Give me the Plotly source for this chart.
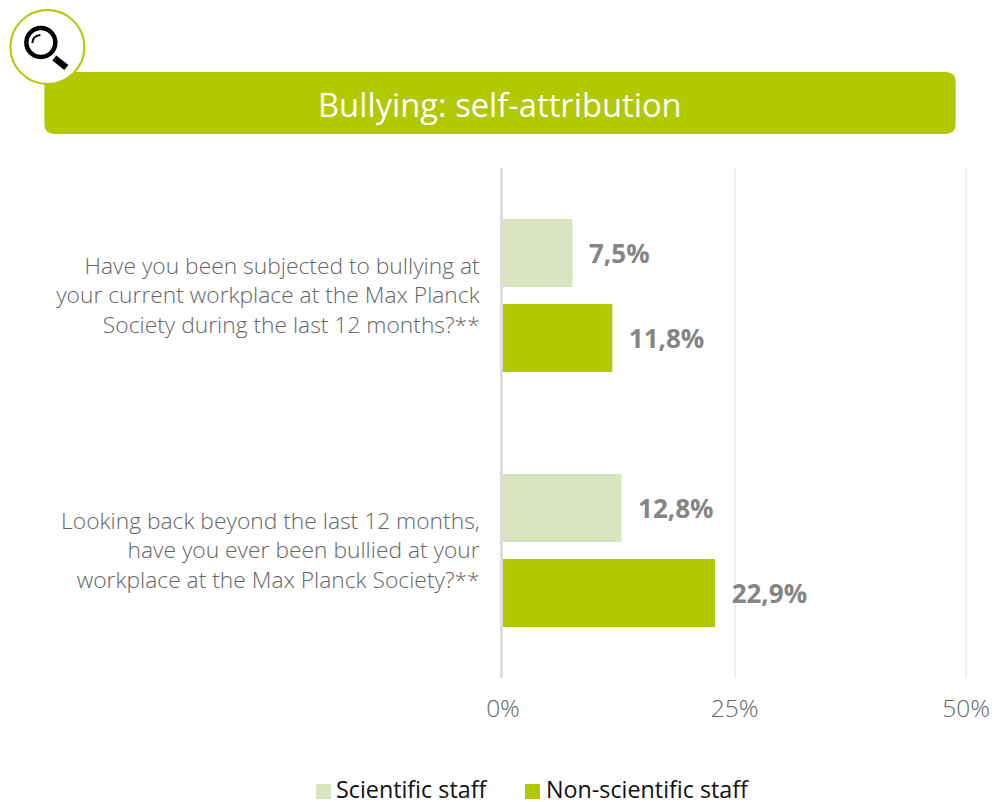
import plotly.graph_objects as go

categories = [
    "Have you been subjected to bullying at<br>your current workplace at the Max Planck<br>Society during the last 12 months?**",
    "Looking back beyond the last 12 months,<br>have you ever been bullied at your<br>workplace at the Max Planck Society?**",
]
series_names = ["Scientific staff", "Non-scientific staff"]
scientific = [7.5, 12.8]
non_scientific = [11.8, 22.9]
x_ticks = [0, 25, 50]
x_tick_labels = ["0%", "25%", "50%"]
title_text = "Bullying: self-attribution"

FONT = "Open Sans"
GREEN = "#B2C800"
LIGHT = "#D9E4BF"
GREY = "#7F7F7F"
X_MAX = 50.2
L, R, T, B = 503, 503 + 463.5 * X_MAX / 50, 168, 678
W, H = 992, 802


def px(x):
    return (x - L) / (R - L)


def py(y):
    return (B - y) / (B - T)


def pt(x, y):
    return f"{px(x):.5f},{py(y):.5f}"


def paper_shape(path, **kw):
    return dict(type="path", xref="paper", yref="paper", path=path, layer="above", **kw)


def round_rect(x0, y0, x1, y1, r):
    return (
        f"M{pt(x0 + r, y0)} L{pt(x1 - r, y0)} Q{pt(x1, y0)} {pt(x1, y0 + r)} "
        f"L{pt(x1, y1 - r)} Q{pt(x1, y1)} {pt(x1 - r, y1)} L{pt(x0 + r, y1)} "
        f"Q{pt(x0, y1)} {pt(x0, y1 - r)} L{pt(x0, y0 + r)} Q{pt(x0, y0)} {pt(x0 + r, y0)} Z"
    )


def circle(cx, cy, rad, **kw):
    return dict(
        type="circle", xref="paper", yref="paper", layer="above",
        x0=px(cx - rad), x1=px(cx + rad), y0=py(cy + rad), y1=py(cy - rad), **kw
    )


def rect(x0, y0, x1, y1, color):
    return dict(
        type="rect", xref="paper", yref="paper", layer="above",
        x0=px(x0), x1=px(x1), y0=py(y1), y1=py(y0), fillcolor=color, line_width=0,
    )


def label(text, x, y, size, color, anchor):
    return dict(
        text=text, xref="paper", yref="paper", x=px(x), y=py(y),
        xanchor=anchor, yanchor="middle", showarrow=False,
        font=dict(family=FONT, size=size, color=color),
    )


fig = go.Figure()
for name, vals, col in [
    (series_names[0], scientific, LIGHT),
    (series_names[1], non_scientific, GREEN),
]:
    fig.add_trace(go.Bar(
        name=name, y=categories, x=vals, orientation="h", marker=dict(color=col, line_width=0),
        texttemplate="\u00a0\u00a0%{x:.1f}%", textposition="outside", cliponaxis=False,
        textfont=dict(family=FONT, size=26, color="#858585", weight="bold"),
        showlegend=False,
    ))

shapes = [
    paper_shape(round_rect(44, 72, 956, 134, 10), fillcolor=GREEN, line_width=0),
    circle(47, 47, 37, fillcolor="white", line=dict(color=GREEN, width=2)),
    circle(40.5, 42.5, 14.5, fillcolor="white", line=dict(color="black", width=4.5)),
    paper_shape(f"M{pt(54, 58)} L{pt(66, 67.5)}", line=dict(color="black", width=6.5)),
    paper_shape(f"M{pt(32, 43)} Q{pt(32, 36)} {pt(40, 35)}", line=dict(color="black", width=2)),
    rect(316, 784, 331, 799, LIGHT),
    rect(525, 784, 540, 799, GREEN),
]

fig.update_layout(
    width=W, height=H, autosize=False,
    margin=dict(l=L, r=W - R, t=T, b=H - B, autoexpand=False),
    paper_bgcolor="white", plot_bgcolor="white",
    barmode="group", bargap=1 / 3, bargroupgap=0.2,
    separators=", ",
    font=dict(family=FONT, color=GREY),
    shapes=shapes,
    showlegend=False,
    annotations=[
        label(title_text, 499.5, 104, 32.7, "white", "center"),
        label(series_names[0], 334, 789, 23.3, "#111111", "left"),
        label(series_names[1], 544, 789, 23.3, "#111111", "left"),
    ],
    xaxis=dict(
        range=[0, X_MAX], tickmode="array", tickvals=x_ticks, ticktext=x_tick_labels,
        showgrid=True, gridcolor="#F0F0F0", gridwidth=2, zeroline=False, showline=False, ticks="",
        tickfont=dict(family=FONT, size=24.5, color="#666666", weight=300), ticklabelstandoff=13,
    ),
    yaxis=dict(
        autorange=False, range=[1.5, -0.5], showgrid=False, zeroline=False,
        showline=True, linecolor="#DDDDDD", linewidth=2.5, ticks="",
        tickfont=dict(family=FONT, size=22.8, color="#666666", weight=300), ticklabelstandoff=16,
    ),
)
fig.write_html(
    "out.html",
    config=dict(displayModeBar=False),
    post_script="document.body.style.margin='0';",
)
